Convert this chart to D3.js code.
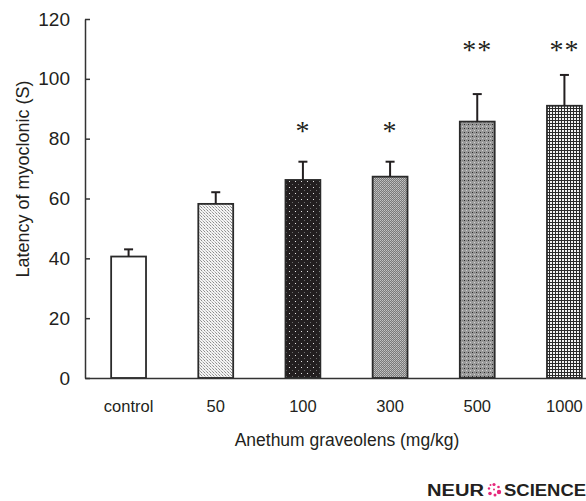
<!DOCTYPE html>
<html>
<head>
<meta charset="utf-8">
<script src="https://cdn.jsdelivr.net/npm/d3@7"></script>
<style>
  body { margin: 0; background: #fff; }
  svg { display: block; }
  text { font-family: "Liberation Sans", Arial, sans-serif; fill: #231f20; }
</style>
</head>
<body>
<script>
// Doses and measured latency (mean, SD)
const doses = ['control', '50', '100', '300', '500', '1000'];
const means = [40.6, 58.2, 66.2, 67.3, 85.7, 91.0];
const sds = [2.4, 3.9, 6.1, 5.0, 9.2, 10.3];
const sig = ['', '', '*', '*', '**', '**'];
const patterns = ['none', 'p50', 'p100', 'p300', 'p500', 'p1000'];
const yTicks = [0, 20, 40, 60, 80, 100, 120];

const w = 586;
const h = 501;

const svg = d3.select('body')
  .append('svg')
  .attr('width', w)
  .attr('height', h);

// Fill patterns, one per dose
const defs = svg.append('defs');

function makePattern(id, size, bg, dots) {
  const p = defs.append('pattern')
    .attr('id', id)
    .attr('patternUnits', 'userSpaceOnUse')
    .attr('width', size)
    .attr('height', size);
  p.append('rect').attr('width', size).attr('height', size).attr('fill', bg);
  dots.forEach(d => {
    p.append('rect')
      .attr('x', d[0]).attr('y', d[1])
      .attr('width', d[3] || 1).attr('height', d[3] || 1)
      .attr('fill', d[2])
      .attr('shape-rendering', 'crispEdges');
  });
}

makePattern('p50', 3, '#f4f4f4', [[0, 0, '#8a8a8a'], [1, 1, '#c8c8c8'], [2, 2, '#a0a0a0']]);
makePattern('p100', 6, '#231f20', [[1, 1, '#e6e6e6'], [4, 4, '#6e6e6e']]);
makePattern('p300', 2, '#7a7a7a', [[0, 0, '#c4c4c4'], [1, 1, '#b0b0b0']]);
makePattern('p500', 4, '#9a9a9a', [[0, 0, '#2a2a2a'], [2, 2, '#d0d0d0'], [2, 0, '#808080']]);
makePattern('p1000', 3, '#2a2a2a', [[1, 1, '#f2f2f2', 2]]);

const x = d3.scaleBand()
  .domain(doses)
  .range([85, 608])
  .paddingInner(0.6)
  .paddingOuter(0.3);

const y = d3.scaleLinear()
  .domain([0, 120])
  .range([378, 19]);

// Y axis, ticks pointing inward
const yAxis = svg.append('g')
  .attr('transform', 'translate(85,0)')
  .call(d3.axisLeft(y).tickValues(yTicks).tickSizeInner(-5).tickSizeOuter(0).tickPadding(15));
yAxis.select('.domain').attr('stroke', '#333').attr('stroke-width', 1.5);
yAxis.selectAll('.tick line').attr('stroke', '#333').attr('stroke-width', 1.5);
yAxis.selectAll('.tick text')
  .attr('font-size', 19)
  .style('font-family', '"Liberation Sans Narrow", "Liberation Sans", Arial, sans-serif')
  .attr('fill', '#231f20');

// Bars
const data = doses.map((d, i) => ({ dose: d, mean: means[i], sd: sds[i], sig: sig[i], pat: patterns[i] }));

svg.selectAll('.bar')
  .data(data)
  .enter()
  .append('rect')
  .attr('class', 'bar')
  .attr('x', d => x(d.dose))
  .attr('y', d => y(d.mean))
  .attr('width', x.bandwidth())
  .attr('height', d => y(0) - y(d.mean))
  .attr('fill', d => d.pat === 'none' ? '#fff' : `url(#${d.pat})`)
  .attr('stroke', '#2a2a2a')
  .attr('stroke-width', 1.8);

// Error bars (upper only)
const err = svg.selectAll('.err')
  .data(data)
  .enter()
  .append('g')
  .attr('class', 'err')
  .attr('stroke', '#231f20')
  .attr('stroke-width', 2);
err.append('line')
  .attr('x1', d => x(d.dose) + x.bandwidth() / 2)
  .attr('x2', d => x(d.dose) + x.bandwidth() / 2)
  .attr('y1', d => y(d.mean))
  .attr('y2', d => y(d.mean + d.sd));
err.append('line')
  .attr('x1', d => x(d.dose) + x.bandwidth() / 2 - 4.5)
  .attr('x2', d => x(d.dose) + x.bandwidth() / 2 + 4.5)
  .attr('y1', d => y(d.mean + d.sd))
  .attr('y2', d => y(d.mean + d.sd));

// Significance stars
svg.selectAll('.sig')
  .data(data.filter(d => d.sig))
  .enter()
  .append('text')
  .attr('class', 'sig')
  .attr('x', d => x(d.dose) + x.bandwidth() / 2)
  .attr('y', d => (d.sig.length === 2 ? y(111) : y(d.mean + d.sd) - 35) + 13)
  .attr('text-anchor', 'middle')
  .attr('font-size', 28)
  .style('font-family', '"Liberation Serif", serif')
  .attr('letter-spacing', 1)
  .text(d => d.sig);

// X axis line and labels
const xAxis = svg.append('g')
  .attr('transform', 'translate(0,378)')
  .call(d3.axisBottom(x).tickSize(0).tickPadding(22));
xAxis.select('.domain').attr('stroke', '#333').attr('stroke-width', 1.5);
xAxis.selectAll('.tick text')
  .attr('font-size', 16.5)
  .attr('fill', '#231f20');

// Axis titles
svg.append('text')
  .attr('x', 347)
  .attr('y', 446)
  .attr('text-anchor', 'middle')
  .attr('font-size', 17.5)
  .text('Anethum graveolens (mg/kg)');

svg.append('text')
  .attr('transform', 'translate(29,179) rotate(-90)')
  .attr('text-anchor', 'middle')
  .attr('font-size', 18)
  .style('font-family', '"Liberation Sans Narrow", "Liberation Sans", Arial, sans-serif')
  .text('Latency of myoclonic (S)');

// Journal logo
const logo = svg.append('g');
logo.append('text')
  .attr('x', 427).attr('y', 496)
  .attr('font-size', 16).attr('font-weight', 'bold')
  .attr('textLength', 57).attr('lengthAdjust', 'spacingAndGlyphs')
  .text('NEUR');
logo.append('text')
  .attr('x', 504).attr('y', 496)
  .attr('font-size', 16).attr('font-weight', 'bold')
  .attr('textLength', 82).attr('lengthAdjust', 'spacingAndGlyphs')
  .text('SCIENCE');
const dots = [[0, -5, 1.6], [4.5, -2.5, 1.3], [5, 2.5, 2.2], [1, 5.5, 1.5], [-4, 4, 1.8], [-5, -1, 1.2], [-3.5, -4.5, 1.0], [0, 0, 1.0]];
logo.selectAll('circle')
  .data(dots)
  .enter()
  .append('circle')
  .attr('cx', d => 494 + d[0])
  .attr('cy', d => 489.5 + d[1])
  .attr('r', d => d[2])
  .attr('fill', '#e6277b');
</script>
</body>
</html>
